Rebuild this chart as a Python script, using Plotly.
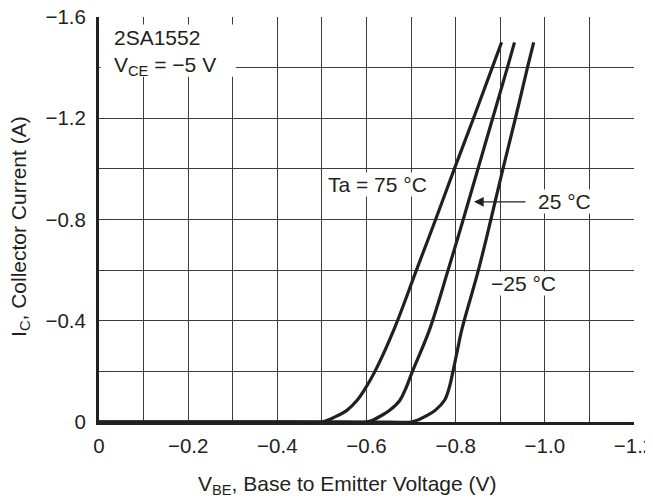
import plotly.graph_objects as go

# --- data ---
vbe_75 = [0.0, -0.45, -0.50, -0.517, -0.535, -0.556, -0.579, -0.597, -0.619, -0.661, -0.712, -0.755, -0.797, -0.840, -0.882, -0.903]
ic_75 = [0.0, 0.0, 0.0, -0.010, -0.025, -0.046, -0.086, -0.132, -0.20, -0.363, -0.60, -0.80, -1.00, -1.20, -1.40, -1.50]

vbe_25 = [0.0, -0.55, -0.60, -0.617, -0.633, -0.652, -0.675, -0.688, -0.703, -0.741, -0.783, -0.817, -0.850, -0.883, -0.916, -0.932]
ic_25 = [0.0, 0.0, 0.0, -0.010, -0.025, -0.046, -0.086, -0.132, -0.20, -0.363, -0.60, -0.80, -1.00, -1.20, -1.40, -1.50]

vbe_m25 = [0.0, -0.65, -0.70, -0.718, -0.735, -0.754, -0.775, -0.785, -0.794, -0.804, -0.8135, -0.851, -0.879, -0.906, -0.934, -0.961, -0.975]
ic_m25 = [0.0, 0.0, 0.0, -0.010, -0.025, -0.046, -0.086, -0.132, -0.20, -0.284, -0.363, -0.60, -0.80, -1.00, -1.20, -1.40, -1.50]

x_ticks = [0, -0.1, -0.2, -0.3, -0.4, -0.5, -0.6, -0.7, -0.8, -0.9, -1.0, -1.1, -1.2]
x_labels = ["0", "", "\u22120.2", "", "\u22120.4", "", "\u22120.6", "", "\u22120.8", "", "\u22121.0", "", "\u22121.2"]
y_ticks = [0, -0.2, -0.4, -0.6, -0.8, -1.0, -1.2, -1.4, -1.6]
y_labels = ["0", "", "\u22120.4", "", "\u22120.8", "", "\u22121.2", "", "\u22121.6"]

INK = "#231f20"
GRID = "#3c3c3c"
FONT = "Liberation Sans, Arial, Helvetica, sans-serif"
FS = 21
FT = 20.5

fig = go.Figure()
for xs, ys in [(vbe_75, ic_75), (vbe_25, ic_25), (vbe_m25, ic_m25)]:
    fig.add_trace(go.Scatter(x=xs, y=ys, mode="lines",
                             line=dict(color=INK, width=3.2, shape="spline", smoothing=1.0),
                             showlegend=False, hoverinfo="skip"))

# the page body has an 8 px margin, so the figure is 8 px smaller and shifted
fig.update_layout(
    width=645, height=491,
    margin=dict(l=91, r=19, t=9, b=77),
    paper_bgcolor="white", plot_bgcolor="white",
    font=dict(family=FONT, size=FS, color=INK),
    xaxis=dict(range=[0, -1.2], tickmode="array", tickvals=x_ticks, ticktext=x_labels,
               showgrid=True, gridcolor=GRID, gridwidth=1.2, zeroline=False, automargin=False,
               showline=True, linecolor=INK, linewidth=3, ticks="", ticklabelstandoff=3,
               ticklabeloverflow="allow",
               tickfont=dict(size=FT, family=FONT, color=INK)),
    yaxis=dict(range=[0, -1.6], tickmode="array", tickvals=y_ticks, ticktext=y_labels,
               showgrid=True, gridcolor=GRID, gridwidth=1.2, zeroline=False, automargin=False,
               showline=True, linecolor=INK, linewidth=3, ticks="", ticklabelstandoff=6,
               ticklabeloverflow="allow",
               tickfont=dict(size=FT, family=FONT, color=INK)),
)

# white box behind the device label
fig.add_shape(type="rect", xref="x", yref="y", x0=-0.004, x1=-0.307, y0=-1.57, y1=-1.364,
              fillcolor="white", line=dict(width=0), layer="between")

ann = [
    dict(x=-0.029, y=-1.52, text="2SA1552", xanchor="left", yanchor="middle"),
    dict(x=-0.029, y=-1.405, text="V<sub>CE</sub> = \u22125 V", xanchor="left", yanchor="middle"),
    dict(x=-0.625, y=-0.94, text="Ta = 75 \u00b0C", xanchor="center", yanchor="middle", bgcolor="white", borderpad=0),
    dict(x=-1.045, y=-0.87, text="25 \u00b0C", xanchor="center", yanchor="middle", bgcolor="white", borderpad=0),
    dict(x=-0.953, y=-0.549, text="\u221225 \u00b0C", xanchor="center", yanchor="middle", bgcolor="white", borderpad=0),
]
for a in ann:
    fig.add_annotation(xref="x", yref="y", showarrow=False, font=dict(size=FS, family=FONT, color=INK), **a)

# arrow to the 25 degC curve
fig.add_annotation(xref="x", yref="y", x=-0.841, y=-0.87, text="", showarrow=True,
                   ax=53, ay=0, arrowhead=2, arrowsize=1.5, arrowwidth=1.3, arrowcolor=INK, standoff=0)

# axis titles
fig.add_annotation(xref="paper", yref="paper", x=0.4636, y=-0.1556, showarrow=False,
                   text="V<sub>BE</sub>, Base to Emitter Voltage (V)", xanchor="center", yanchor="middle",
                   font=dict(size=FS, family=FONT, color=INK))
fig.add_annotation(xref="paper", yref="paper", x=-0.1477, y=0.484, showarrow=False, textangle=-90,
                   text="I<sub>C</sub>, Collector Current (A)", xanchor="center", yanchor="middle",
                   font=dict(size=FS, family=FONT, color=INK))

fig.write_html("out.html")
